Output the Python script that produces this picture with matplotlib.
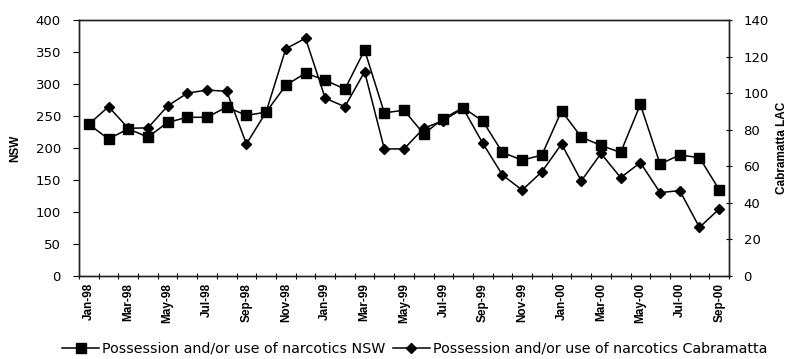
import matplotlib
matplotlib.use("Agg")
import matplotlib.pyplot as plt
from matplotlib.lines import Line2D

plt.rcParams['font.family'] = ['DejaVu Sans']

months = ["Jan-98","Feb-98","Mar-98","Apr-98","May-98","Jun-98","Jul-98","Aug-98","Sep-98","Oct-98","Nov-98","Dec-98",
          "Jan-99","Feb-99","Mar-99","Apr-99","May-99","Jun-99","Jul-99","Aug-99","Sep-99","Oct-99","Nov-99","Dec-99",
          "Jan-00","Feb-00","Mar-00","Apr-00","May-00","Jun-00","Jul-00","Aug-00","Sep-00"]
nsw = [237, 214, 230, 217, 240, 248, 248, 264, 251, 256, 298, 317,
       306, 292, 353, 255, 259, 222, 246, 263, 242, 193, 181, 189,
       258, 217, 204, 193, 268, 175, 189, 185, 135]
cabramatta = [83, 92.6, 80.8, 81, 93, 100, 101.7, 101, 72.2, 89.7, 124.3, 130,
              97.2, 92.6, 111.7, 69.5, 69.5, 80.8, 85, 91.7, 72.6, 55.2, 47, 57,
              72.2, 52, 67, 53.8, 62, 45.6, 46.7, 26.6, 36.6]
nsw_label = "Possession and/or use of narcotics NSW"
cab_label = "Possession and/or use of narcotics Cabramatta"

fig = plt.figure(figsize=(7.87, 3.59), dpi=100)
ax = fig.add_axes([79/787, 1-276/359, (729-79)/787, 256/359])
ax2 = ax.twinx()

x = list(range(len(months)))
ax.plot(x, nsw, color='black', lw=1.1, marker='s', markersize=7, label=nsw_label, zorder=3)
ax2.plot(x, cabramatta, color='black', lw=1.1, marker='D', markersize=5.5, label=cab_label, zorder=3)

ax.set_xlim(-0.5, len(months)-0.5)
ax.set_ylim(0, 400)
ax2.set_ylim(0, 140)
ax.set_yticks(range(0, 401, 50))
ax2.set_yticks(range(0, 141, 20))

ax.set_xticks(x[::2])
ax.set_xticklabels(months[::2], rotation=90, fontsize=8.5, fontweight='bold',
                   family=['Liberation Sans', 'DejaVu Sans'])
ax.set_xticks([i + 0.5 for i in range(-1, len(months))], minor=True)
ax.tick_params(axis='x', which='major', length=0, pad=5)
ax.tick_params(axis='x', which='minor', length=4, direction='inout', width=0.8)
ax.tick_params(axis='y', labelsize=9.5, length=4, width=0.8, direction='out', pad=9)
ax2.tick_params(axis='y', labelsize=9.5, length=5, width=0.8, direction='inout', pad=8)

for a in (ax, ax2):
    for s in a.spines.values():
        s.set_linewidth(1.0)
        s.set_color('#222222')

ax.set_ylabel("NSW", fontsize=8.5, fontweight='bold', family=['Liberation Sans', 'DejaVu Sans'])
ax2.set_ylabel("Cabramatta LAC", fontsize=8.5, fontweight='bold', family=['Liberation Sans', 'DejaVu Sans'])
ax.yaxis.set_label_coords((21 - 79) / 650, 0.5)
ax2.yaxis.set_label_coords((776 - 79) / 650, 0.5)

handles = [Line2D([0], [0], color='black', lw=1.1, marker='s', markersize=7),
           Line2D([0], [0], color='black', lw=1.1, marker='D', markersize=5.5)]
fig.legend(handles, [nsw_label, cab_label], loc='center', bbox_to_anchor=(0.527, 1-349/359),
           ncol=2, frameon=False, fontsize=10.3, handlelength=2.6, handletextpad=0.2, columnspacing=0.5)

fig.savefig("out.png", dpi=100)
